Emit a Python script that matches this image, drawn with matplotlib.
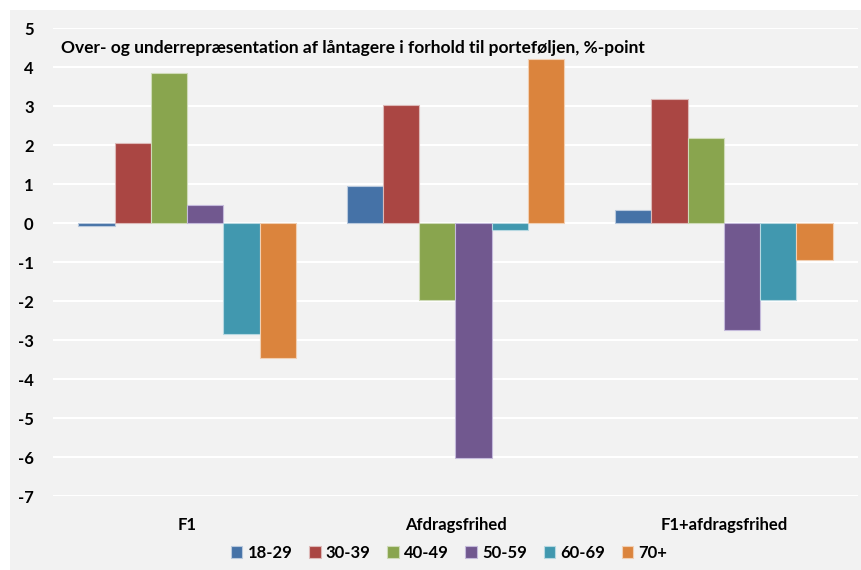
import matplotlib
matplotlib.use("Agg")
import matplotlib.pyplot as plt
import numpy as np
from matplotlib.patches import Rectangle

plt.rcParams['font.family'] = ['Lato', 'DejaVu Sans']

categories = ['F1', 'Afdragsfrihed', 'F1+afdragsfrihed']
groups = ['18-29', '30-39', '40-49', '50-59', '60-69', '70+']
values = {
    '18-29': [-0.07, 0.95, 0.34],
    '30-39': [2.05, 3.03, 3.17],
    '40-49': [3.85, -1.97, 2.17],
    '50-59': [0.47, -6.03, -2.75],
    '60-69': [-2.85, -0.17, -1.97],
    '70+': [-3.45, 4.2, -0.96],
}
colors = ['#4572a7', '#aa4643', '#89a54e', '#71588f', '#4198af', '#db843d']
edges = ['#b9c9dd', '#ddb9b8', '#cfdbb8', '#c4badb', '#b6d8e1', '#f1cfb3']

fig = plt.figure(figsize=(8.61, 5.70), dpi=100)
fig.patch.set_facecolor('white')
bg = Rectangle((10 / 861, 0), 1, 1 - 10 / 570, transform=fig.transFigure,
               facecolor='#f2f2f2', edgecolor='none', zorder=-10)
fig.add_artist(bg)

ax = fig.add_axes([53 / 861, 1 - 496 / 570, 805 / 861, 468 / 570])
ax.set_facecolor('none')

x = np.arange(len(categories))
w = 0.135
for i, g in enumerate(groups):
    ax.bar(x + (i - 2.5) * w, values[g], width=w, color=colors[i],
           edgecolor=edges[i], linewidth=0.8, label=g, zorder=3)

ax.set_xlim(-0.5, 2.5)
ax.set_ylim(-7, 5)
ax.set_yticks(range(-7, 6))
ax.set_yticklabels([str(v) for v in range(-7, 6)], fontsize=12, fontweight='bold')
ax.set_xticks(x)
ax.set_xticklabels(categories, fontsize=12, fontweight='bold')
ax.tick_params(axis='both', length=0)
ax.tick_params(axis='y', pad=14)
ax.tick_params(axis='x', pad=15)
ax.grid(axis='y', color='white', linewidth=1.5, zorder=1)
for s in ax.spines.values():
    s.set_visible(False)

ax.text(-0.47, 4.5, 'Over- og underrepræsentation af låntagere i forhold til porteføljen, %-point',
        fontsize=12.5, fontweight='bold', va='center', ha='left')

leg = fig.legend(loc='center', bbox_to_anchor=(449 / 861, 1 - 553 / 570), ncol=6,
                 frameon=False, fontsize=12, handlelength=0.7, handleheight=0.7,
                 handletextpad=0.3, columnspacing=1.0)
for t in leg.get_texts():
    t.set_fontweight('bold')

fig.savefig('out.png', dpi=100)
